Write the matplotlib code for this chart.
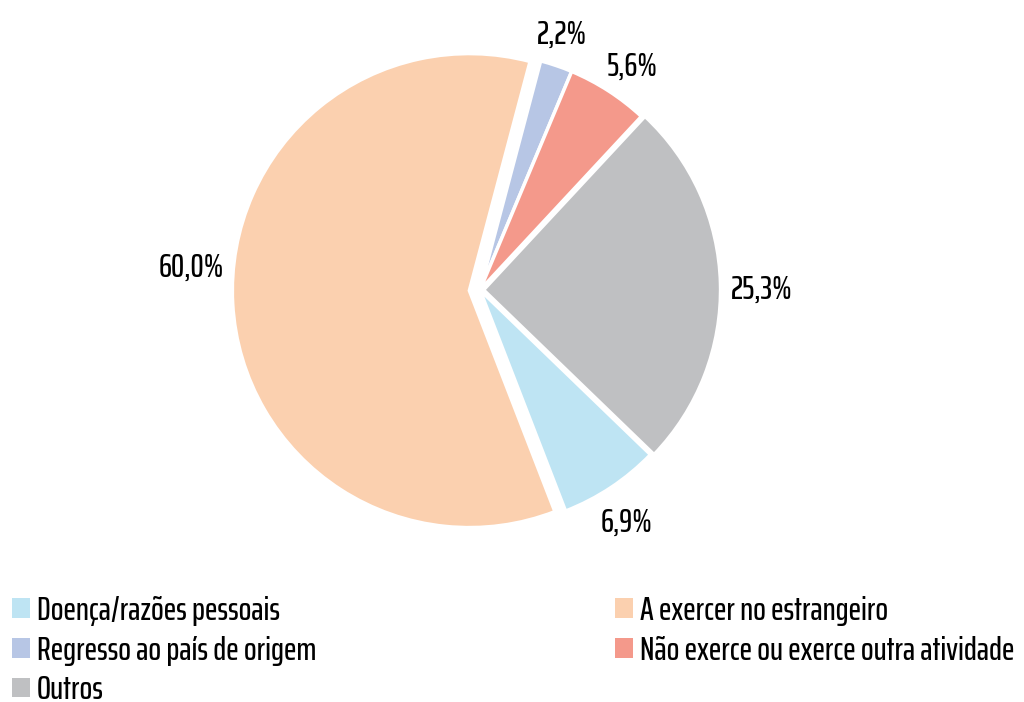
import numpy as np
import matplotlib
matplotlib.use("Agg")
import matplotlib.pyplot as plt
from matplotlib import font_manager
from matplotlib.patches import Patch

categories = ["Doença/razões pessoais", "A exercer no estrangeiro",
              "Regresso ao país de origem", "Não exerce ou exerce outra atividade",
              "Outros"]
values = [6.9, 60.0, 2.2, 5.6, 25.3]
colors = ["#BEE4F3", "#FBD0AF", "#B7C6E5", "#F4998B", "#BFC0C2"]
explode = [0.0, 0.045, 0.0, 0.0, 0.015]

names = {f.name for f in font_manager.fontManager.ttflist}
fam, stretch, fsize = "DejaVu Sans", "condensed", 17
for c, s in [("Saira ExtraCondensed", 24), ("Pathway Gothic One", 23.5), ("Big Shoulders Text", 22)]:
    if c in names:
        fam, stretch, fsize = c, "normal", s
        break
plt.rcParams["font.family"] = [fam, "DejaVu Sans"]
plt.rcParams["font.weight"] = "medium"

fig = plt.figure(figsize=(10.24, 7.02), dpi=100)
W, H = 1024, 702
cx, cy, r = 480, 290, 237
lim = 1.25
size = 2 * lim * r
ax = fig.add_axes([(cx - size / 2) / W, (H - cy - size / 2) / H, size / W, size / H])
wedges, texts, autotexts = ax.pie(
    values, colors=colors, explode=explode, startangle=-44, counterclock=False,
    autopct=lambda p: f"{p:.1f}%".replace(".", ","), pctdistance=1.17,
    wedgeprops=dict(edgecolor="white", linewidth=2.5),
    textprops=dict(fontsize=fsize, color="black", stretch=stretch))
# label placement: distance from pie centre and angle offset from wedge middle
lab_dist = [1.16, 1.22, 1.13, 1.14, 1.19]
lab_dang = [-1.4, -7.6, 1.0, -1.5, -1.5]
for w, t, d, da in zip(wedges, autotexts, lab_dist, lab_dang):
    mid = np.deg2rad((w.theta1 + w.theta2) / 2 + da)
    t.set_position((d * np.cos(mid), d * np.sin(mid)))
    t.set_ha("center")
    t.set_va("center")
ax.set_xlim(-lim, lim)
ax.set_ylim(-lim, lim)
ax.set_aspect("equal")
ax.axis("off")

leg_kw = dict(frameon=False, handlelength=0.54, handleheight=0.54, handletextpad=0.21,
              labelspacing=0.29, borderpad=0, borderaxespad=0,
              prop=dict(size=fsize, stretch=stretch))
col1 = [0, 2, 4]
col2 = [1, 3]
leg1 = fig.legend([Patch(facecolor=colors[i], edgecolor="none") for i in col1],
                  [categories[i] for i in col1], loc="upper left",
                  bbox_to_anchor=(12 / W, 1 - 596 / H), **leg_kw)
leg2 = fig.legend([Patch(facecolor=colors[i], edgecolor="none") for i in col2],
                  [categories[i] for i in col2], loc="upper left",
                  bbox_to_anchor=(615 / W, 1 - 596 / H), **leg_kw)

fig.savefig("out.png", dpi=100, facecolor="white")
